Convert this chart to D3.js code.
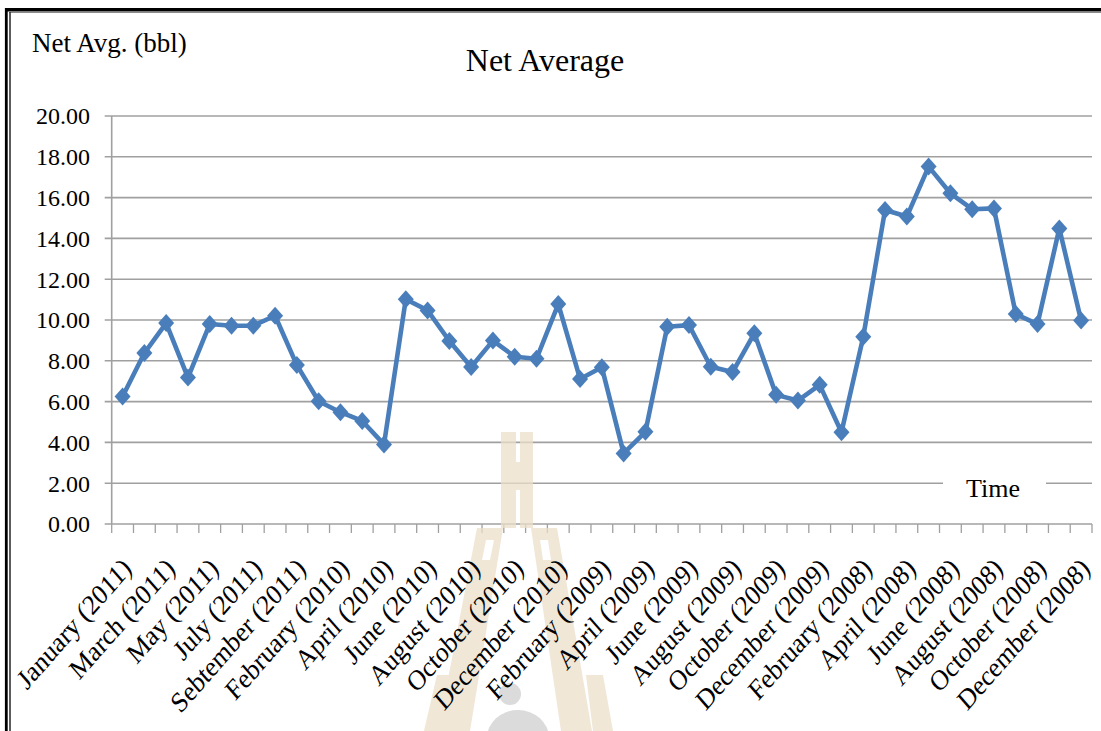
<!DOCTYPE html>
<html>
<head>
<meta charset="utf-8">
<script src="https://cdn.jsdelivr.net/npm/d3@7"></script>
<style>
  html, body { margin: 0; padding: 0; background: #fff; }
  svg { display: block; }
  text { font-family: "Liberation Serif", "Times New Roman", serif; fill: #000; }
</style>
</head>
<body>
<svg id="chart" width="1101" height="731"></svg>
<script>
// Monthly net average (bbl), listed in the order shown on the time axis
const months2011 = ["January", "February", "March", "April", "May", "June", "July", "August", "Sebtember"];
const monthsFull = ["January", "February", "March", "April", "May", "June", "July", "August", "September", "October", "November", "December"];
const categories = [
  ...months2011.map(m => `${m} (2011)`),
  ...monthsFull.map(m => `${m} (2010)`),
  ...monthsFull.map(m => `${m} (2009)`),
  ...monthsFull.map(m => `${m} (2008)`)
];
const netAverage = [
  6.25, 8.38, 9.85, 7.18, 9.80, 9.72, 9.72, 10.21, 7.79,
  6.02, 5.48, 5.05, 3.90, 11.02, 10.47, 8.97, 7.70, 8.99, 8.20, 8.10, 10.78,
  7.11, 7.68, 3.46, 4.52, 9.67, 9.75, 7.71, 7.45, 9.35, 6.33, 6.05, 6.82,
  4.50, 9.18, 15.39, 15.07, 17.52, 16.21, 15.43, 15.47, 10.29, 9.80, 14.49, 9.97
];
const yTicks = [0, 2, 4, 6, 8, 10, 12, 14, 16, 18, 20];

const svg = d3.select("#chart");
const W = 1101, H = 731;
const plot = { left: 111.7, right: 1092, top: 116, bottom: 524 };
const gridColor = "#a0a0a0";
const lineColor = "#4a7ebb";

const x = d3.scaleBand().domain(categories).range([plot.left, plot.right]).padding(0);
const y = d3.scaleLinear().domain([0, 20]).range([plot.bottom, plot.top]);
const cx = c => x(c) + x.bandwidth() / 2;

// Frame
svg.append("rect").attr("width", W).attr("height", H).attr("fill", "#fff");
svg.append("line").attr("x1", 5).attr("x2", W).attr("y1", 9.8).attr("y2", 9.8)
  .attr("stroke", "#000").attr("stroke-width", 3.5);
svg.append("line").attr("x1", 9).attr("x2", W).attr("y1", 12.5).attr("y2", 12.5)
  .attr("stroke", "#8a8a8a").attr("stroke-width", 1.2);
svg.append("line").attr("x1", 6.3).attr("x2", 6.3).attr("y1", 8).attr("y2", H)
  .attr("stroke", "#000").attr("stroke-width", 2.8);
svg.append("line").attr("x1", 10).attr("x2", 10).attr("y1", 12).attr("y2", H)
  .attr("stroke", "#333").attr("stroke-width", 1.6);

// Horizontal gridlines with short ticks left of the value axis
const grid = svg.append("g");
grid.selectAll("line").data(yTicks).join("line")
  .attr("x1", plot.left - 7).attr("x2", plot.right)
  .attr("y1", d => y(d)).attr("y2", d => y(d))
  .attr("stroke", gridColor).attr("stroke-width", 1.6);

// Value axis line
svg.append("line").attr("x1", plot.left).attr("x2", plot.left)
  .attr("y1", plot.top).attr("y2", plot.bottom)
  .attr("stroke", gridColor).attr("stroke-width", 1.6);

// Category axis tick marks between bands
const tickXs = categories.map(c => x(c)).concat([plot.right]);
svg.append("g").selectAll("line").data(tickXs).join("line")
  .attr("x1", d => d).attr("x2", d => d)
  .attr("y1", plot.bottom).attr("y2", plot.bottom + 9)
  .attr("stroke", gridColor).attr("stroke-width", 1.3);

// Faint emblem in the background
const mark = svg.append("g").attr("opacity", 0.75);
const tan = "#ebdfca";
mark.append("path").attr("fill", tan).attr("fill-rule", "evenodd")
  .attr("d", "M501,432 H533 V528 H501 Z M516,432 H520 V462 H516 Z M516,490 H520 V528 H516 Z");
mark.append("path").attr("fill", tan).attr("fill-rule", "evenodd")
  .attr("d", "M477,528 H503 L470,731 H438 Z M486,540 H494 L490,560 H482 Z");
mark.append("path").attr("fill", tan).attr("fill-rule", "evenodd")
  .attr("d", "M531,528 H557 L592,731 H561 Z M540,540 H548 L551,560 H543 Z");
mark.append("path").attr("fill", tan)
  .attr("d", "M437,675 H456 L448,731 H424 Z");
mark.append("path").attr("fill", tan)
  .attr("d", "M586,675 H603 L613,731 H593 Z");
mark.append("circle").attr("cx", 510).attr("cy", 694).attr("r", 11).attr("fill", "#cfcfcf");
mark.append("ellipse").attr("cx", 518).attr("cy", 738).attr("rx", 31).attr("ry", 28).attr("fill", "#cfcfcf");

// Value axis labels
svg.append("g").selectAll("text").data(yTicks).join("text")
  .attr("x", 90).attr("y", d => y(d)).attr("dy", "0.35em")
  .attr("text-anchor", "end").attr("font-size", 24)
  .text(d => d3.format(".2f")(d));

// Category labels, every second month (slanted and slightly tall)
svg.append("g").selectAll("text")
  .data(categories.filter((c, i) => i % 2 === 0)).join("text")
  .attr("transform", c => `translate(${cx(c) + 4},${563}) scale(1,1.14) rotate(-45)`)
  .attr("text-anchor", "end").attr("dy", "0.35em").attr("font-size", 25)
  .text(c => c);

// Axis title on the 2.00 gridline
svg.append("rect").attr("x", 943).attr("y", 470).attr("width", 103).attr("height", 30).attr("fill", "#fff");
svg.append("text").attr("x", 966).attr("y", 497).attr("font-size", 26).text("Time");

// Titles
svg.append("text").attr("x", 32).attr("y", 52).attr("font-size", 27).text("Net Avg. (bbl)");
svg.append("text").attr("x", 545).attr("y", 71).attr("text-anchor", "middle").attr("font-size", 32).text("Net Average");

// Series line and diamond markers
const series = categories.map((c, i) => ({ c, v: netAverage[i] }));
svg.append("path").datum(series)
  .attr("fill", "none").attr("stroke", lineColor).attr("stroke-width", 4.6)
  .attr("stroke-linejoin", "round")
  .attr("d", d3.line().x(d => cx(d.c)).y(d => y(d.v)));
svg.append("g").selectAll("path").data(series).join("path")
  .attr("transform", d => `translate(${cx(d.c)},${y(d.v)})`)
  .attr("d", "M0,-9 L8,0 L0,9 L-8,0 Z")
  .attr("fill", lineColor);
</script>
</body>
</html>
